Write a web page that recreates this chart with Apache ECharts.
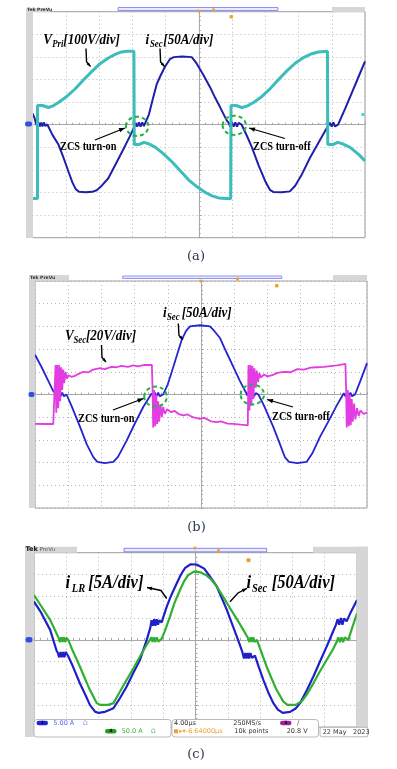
<!DOCTYPE html>
<html><head><meta charset="utf-8">
<script src="https://cdn.jsdelivr.net/npm/echarts@6/dist/echarts.min.js"></script>
<style>html,body{margin:0;padding:0;background:#fff}#c{width:397px;height:769px}</style>
</head><body><div id="c"></div>
<script>
// ---- data (x: divisions from left edge, y: divisions from centre) ----
const aISec = [[0,0.5],[0.06,0.3],[0.1,0.08],[0.14,-0.08],[0.18,0.1],[0.22,-0.08],[0.26,0.1],[0.3,-0.08],[0.34,0.1],[0.38,-0.05],[0.45,0],
[0.6,-0.45],[0.78,-0.88],[0.93,-1.45],[1.08,-2.07],[1.2,-2.55],[1.3,-2.85],[1.4,-2.97],[1.6,-2.99],[1.8,-2.97],[1.93,-2.9],
[2.05,-2.75],[2.28,-2.37],[2.5,-1.75],[2.78,-0.95],[2.95,-0.45],[3.06,-0.1],
[3.1,0.08],[3.15,-0.08],[3.2,0.1],[3.25,-0.08],[3.3,0.1],[3.35,-0.06],[3.38,0],
[3.5,0.45],[3.62,1.15],[3.74,1.81],[3.86,2.2],[3.98,2.55],[4.13,2.9],[4.25,2.99],[4.5,3.02],[4.79,2.99],[4.94,2.7],[5.14,2.2],[5.34,1.66],[5.49,1.2],[5.64,0.78],[5.84,0.19],
[5.9,0.08],[5.95,-0.08],[6.0,0.1],[6.05,-0.08],[6.1,0.1],[6.15,-0.08],[6.2,0.08],[6.29,0],
[6.45,-0.5],[6.6,-1.0],[6.8,-1.8],[7.0,-2.5],[7.14,-2.88],[7.25,-2.98],[7.5,-2.99],[7.74,-2.95],
[7.9,-2.7],[8.1,-2.2],[8.35,-1.45],[8.6,-0.8],[8.89,-0.05],
[8.95,0.08],[9.0,-0.08],[9.05,0.1],[9.1,-0.08],[9.19,0],
[9.4,0.7],[9.6,1.4],[9.8,2.1],[10,2.8]];
const aVPri = [[0,-3.26],[0.15,-3.26],[0.15,0.85],[0.3,0.85],[0.48,0.76],[0.6,0.82],[0.78,0.98],[1.03,1.25],[1.28,1.58],[1.53,1.98],[1.78,2.35],[2.03,2.7],[2.28,2.95],[2.5,3.12],[2.68,3.22],[2.85,3.25],[3.05,3.25],
[3.06,-0.88],[3.2,-0.88],[3.35,-0.78],[3.5,-0.85],[3.7,-1.0],[3.95,-1.3],[4.2,-1.65],[4.45,-2.05],[4.7,-2.45],[4.95,-2.75],[5.2,-3.0],[5.4,-3.15],[5.6,-3.24],[5.96,-3.28],
[5.97,0.85],[6.12,0.85],[6.3,0.76],[6.45,0.82],[6.65,0.98],[6.9,1.25],[7.15,1.6],[7.4,2.0],[7.65,2.38],[7.9,2.72],[8.15,2.97],[8.4,3.14],[8.6,3.22],[8.87,3.25],
[8.88,-0.88],[9.03,-0.88],[9.18,-0.78],[9.33,-0.85],[9.55,-1.0],[9.8,-1.3],[10,-1.6]];

const bISec = [[0,1.75],[0.2,1.2],[0.4,0.6],[0.55,0.15],[0.62,0.05],
[0.67,-0.08],[0.72,0.08],[0.77,-0.08],[0.82,0.08],[0.87,-0.08],[0.95,0],
[1.1,-0.5],[1.36,-1.44],[1.56,-2.2],[1.76,-2.77],[1.88,-2.97],[2.1,-3.02],[2.36,-2.97],[2.5,-2.75],[2.76,-2.03],[3.0,-1.3],[3.26,-0.55],[3.45,-0.1],
[3.51,0.05],[3.56,-0.08],[3.61,0.08],[3.66,-0.08],[3.71,0.08],[3.76,-0.08],[3.86,0],
[4.0,0.45],[4.17,1.23],[4.3,1.85],[4.42,2.41],[4.55,2.8],[4.67,3.0],[4.97,3.05],[5.27,3.0],[5.4,2.8],[5.57,2.49],[5.77,1.85],[5.97,1.23],[6.17,0.6],[6.35,0.1],
[6.4,-0.05],[6.45,0.08],[6.5,-0.08],[6.55,0.08],[6.6,-0.08],[6.65,0.06],[6.73,0],
[6.9,-0.5],[7.18,-1.44],[7.38,-2.2],[7.53,-2.77],[7.65,-2.97],[7.9,-3.02],[8.18,-2.97],[8.35,-2.6],[8.58,-1.88],[8.85,-1.15],[9.09,-0.48],[9.25,-0.08],
[9.3,0.06],[9.35,-0.08],[9.4,0.08],[9.45,-0.08],[9.5,0.08],[9.55,-0.08],[9.64,0],
[9.8,0.6],[10,1.38]];
const bVSec = [[0,-1.29],[0.3,-1.3],[0.55,-1.3],[0.6,-1.25],[0.62,1.3],[0.64,-0.8],[0.67,1.3],[0.7,-0.6],[0.73,1.3],[0.76,-0.3],[0.79,1.2],[0.82,0.2],[0.85,1.1],[0.88,0.5],[0.92,1.0],[0.96,0.7],[1.0,0.85],[1.1,0.78],
[1.2,0.82],[1.3,0.9],[1.45,1.0],[1.6,0.97],[1.75,1.1],[1.96,1.16],[2.1,1.12],[2.3,1.22],[2.46,1.2],[2.6,1.26],[2.8,1.22],[2.96,1.28],[3.1,1.24],[3.3,1.3],[3.52,1.3],
[3.54,0.3],[3.56,-1.45],[3.59,0.2],[3.62,-1.4],[3.65,0.0],[3.68,-1.3],[3.71,-0.3],[3.74,-1.2],[3.78,-0.45],[3.82,-1.0],[3.86,-0.55],[3.91,-0.85],[3.98,-0.65],[4.1,-0.78],[4.2,-0.72],[4.35,-0.88],[4.47,-0.92],[4.6,-0.88],[4.75,-1.0],[4.97,-1.07],[5.1,-1.03],[5.3,-1.18],[5.47,-1.22],[5.6,-1.18],[5.8,-1.28],[5.97,-1.29],[6.2,-1.33],[6.41,-1.36],
[6.43,1.3],[6.46,-0.7],[6.49,1.3],[6.52,-0.5],[6.55,1.25],[6.58,-0.2],[6.61,1.15],[6.65,0.3],[6.68,1.05],[6.72,0.55],[6.76,0.95],[6.8,0.75],[6.9,0.88],[7.0,0.8],[7.15,0.85],[7.3,0.95],[7.5,1.0],[7.7,0.98],[7.9,1.12],[8.1,1.1],[8.3,1.18],[8.5,1.2],[8.7,1.22],[8.9,1.25],[9.1,1.28],[9.35,1.35],
[9.37,0.3],[9.39,-1.45],[9.42,0.2],[9.45,-1.4],[9.48,0.0],[9.51,-1.35],[9.54,-0.2],[9.57,-1.2],[9.61,-0.4],[9.65,-1.1],[9.7,-0.6],[9.75,-0.95],[9.8,-0.7],[9.9,-0.85],[10,-0.8]];

const cILR = [[0,1.76],[0.2,1.3],[0.5,0.46],[0.7,-0.5],
[0.74,-0.6],[0.78,-0.8],[0.82,-0.55],[0.86,-0.8],[0.9,-0.55],[0.94,-0.8],[0.98,-0.55],[1.06,-0.75],
[1.2,-1.2],[1.42,-1.99],[1.6,-2.55],[1.73,-2.98],[1.89,-3.29],[2.0,-3.35],[2.2,-3.3],[2.46,-3.13],[2.65,-2.7],[2.87,-2.14],[3.08,-1.5],[3.28,-0.92],[3.49,0],[3.6,0.55],
[3.64,0.9],[3.68,0.65],[3.72,0.95],[3.76,0.65],[3.8,0.95],[3.84,0.7],[3.88,0.9],[3.95,0.8],
[4.11,1.53],[4.25,2.05],[4.42,2.6],[4.55,3.0],[4.68,3.3],[4.85,3.47],[5.05,3.45],[5.27,3.27],[5.45,2.9],[5.66,2.45],[5.82,1.9],[5.97,1.38],[6.12,0.78],[6.28,0.15],[6.45,-0.55],
[6.5,-0.85],[6.54,-0.6],[6.58,-0.85],[6.62,-0.6],[6.66,-0.85],[6.7,-0.6],[6.75,-0.82],[6.84,-0.72],
[6.95,-1.2],[7.1,-1.83],[7.25,-2.4],[7.41,-2.9],[7.55,-3.2],[7.7,-3.35],[7.93,-3.3],[8.1,-3.15],[8.24,-2.9],[8.45,-2.3],[8.65,-1.68],[8.85,-1.0],[9.06,-0.31],[9.25,0.35],[9.35,0.7],
[9.4,0.95],[9.45,0.7],[9.5,1.0],[9.55,0.7],[9.6,0.98],[9.68,0.85],
[9.8,1.25],[10,1.83]];
const cISec = [[0,2.06],[0.2,1.6],[0.5,0.92],[0.68,0.35],[0.76,0.1],
[0.8,-0.1],[0.84,0.12],[0.88,-0.1],[0.92,0.12],[0.96,-0.1],[1.0,0.1],[1.06,0],
[1.2,-0.5],[1.42,-1.22],[1.6,-1.85],[1.73,-2.29],[1.94,-2.9],[2.05,-2.98],[2.3,-2.98],[2.46,-2.9],[2.65,-2.4],[2.87,-1.83],[3.08,-1.3],[3.28,-0.76],[3.5,-0.2],[3.59,0],
[3.63,0.12],[3.67,-0.1],[3.71,0.12],[3.75,-0.1],[3.8,0.12],[3.85,-0.08],[3.95,0.05],
[4.05,0.4],[4.21,1.07],[4.35,1.7],[4.52,2.29],[4.65,2.7],[4.78,2.98],[4.95,3.13],[5.15,3.1],[5.35,2.95],[5.5,2.75],[5.66,2.45],[5.85,2.0],[6.07,1.45],[6.28,0.95],[6.48,0.46],[6.62,0.1],
[6.67,-0.1],[6.71,0.12],[6.75,-0.1],[6.79,0.12],[6.83,-0.1],[6.9,0],
[7.0,-0.4],[7.2,-1.22],[7.35,-1.75],[7.51,-2.29],[7.72,-2.83],[7.85,-2.98],[8.1,-2.98],[8.3,-2.8],[8.45,-2.5],[8.65,-1.99],[8.85,-1.45],[9.06,-0.92],[9.25,-0.45],[9.37,-0.1],
[9.42,0.12],[9.47,-0.1],[9.52,0.12],[9.57,-0.1],[9.62,0.12],[9.73,0],
[9.85,0.55],[10,1.22]];

const captions = ['(a)', '(b)', '(c)'];
const readoutCh1 = '5.00 A', readoutCh4 = '50.0 A', readoutTime = '4.00\u03bcs', readoutRate = '250MS/s';
const readoutDelay = '\u25b8\u25be-6.64000\u03bcs', readoutPts = '10k points', readoutTrig = '20.8 V', readoutDate = '22 May', readoutYear = '2023';

// ---- build ----
const centred = d => d.map(p => [p[0] - 5, p[1]]);
const grids = [
  {left: 32.5, top: 11.7, width: 332.5, height: 226},
  {left: 35, top: 281, width: 332, height: 227},
  {left: 34, top: 552.7, width: 323, height: 174.4}
];
const yr = [5, 5, 4];
const gridOpts = grids.map(g => Object.assign({show: true, borderColor: '#9c9c9c', borderWidth: 1, backgroundColor: '#fff'}, g));
const xAxes = grids.map((g, i) => ({
  gridIndex: i, type: 'value', min: -5, max: 5, interval: 1,
  axisLine: {onZero: true, lineStyle: {color: '#a8a8a8', width: 1}},
  axisTick: {show: true, inside: true, length: 3, lineStyle: {color: '#a8a8a8'}},
  minorTick: {show: true, splitNumber: 5, length: 2, lineStyle: {color: '#a8a8a8'}},
  axisLabel: {show: false},
  splitLine: {show: true, lineStyle: {color: '#b4b4b4', type: [1, 3], width: 1}}
}));
const yAxes = grids.map((g, i) => ({
  gridIndex: i, type: 'value', min: -yr[i], max: yr[i], interval: 1,
  axisLine: {onZero: true, lineStyle: {color: '#a8a8a8', width: 1}},
  axisTick: {show: true, inside: true, length: 3, lineStyle: {color: '#a8a8a8'}},
  minorTick: {show: true, splitNumber: 5, length: 2, lineStyle: {color: '#a8a8a8'}},
  axisLabel: {show: false},
  splitLine: {show: true, lineStyle: {color: '#b4b4b4', type: [1, 3], width: 1}}
}));
function ln(i, data, color, width, z) {
  return {type: 'line', xAxisIndex: i, yAxisIndex: i, data: centred(data), showSymbol: false, symbol: 'none',
    lineStyle: {color: color, width: width}, z: z, silent: true, animation: false};
}
const series = [
  ln(0, aISec, '#1f1fa8', 2, 3),
  ln(0, aVPri, '#3dbcbc', 3, 4),
  ln(1, bISec, '#2424d0', 1.8, 3),
  ln(1, bVSec, '#e23ce2', 1.8, 4),
  ln(2, cILR, '#2020c8', 2.2, 3),
  ln(2, cISec, '#30b030', 2.2, 4)
];

// ---- graphics helpers ----
const G = [];
function rect(x, y, w, h, fill, stroke, r, z) {
  G.push({type: 'rect', shape: {x: x, y: y, width: w, height: h, r: r || 0}, style: {fill: fill, stroke: stroke || null, lineWidth: stroke ? 0.8 : 0}, z: z || 20, silent: true});
}
function T(x, y, text, size, o) {
  o = o || {};
  G.push({type: 'text', x: x, y: y, scaleX: o.sx || 1, z: o.z || 60, silent: true,
    style: {text: text, fill: o.color || '#000', fontSize: size, fontFamily: o.ff || 'Liberation Serif',
      fontWeight: o.fw || 'bold', fontStyle: o.fs || 'normal', align: o.align || 'left', verticalAlign: 'middle',
      textAlign: o.align || 'left', textVerticalAlign: 'middle'}});
}
function arrow(pts, size, w) {
  G.push({type: 'polyline', shape: {points: pts}, style: {stroke: '#000', lineWidth: w || 1.2, fill: null}, z: 55, silent: true});
  const [x1, y1] = pts[pts.length - 2], [x2, y2] = pts[pts.length - 1];
  const a = Math.atan2(y2 - y1, x2 - x1), s = size || 5;
  G.push({type: 'polygon', z: 56, silent: true, style: {fill: '#000'}, shape: {points: [[x2, y2],
    [x2 - s * Math.cos(a) + s * 0.38 * Math.sin(a), y2 - s * Math.sin(a) - s * 0.38 * Math.cos(a)],
    [x2 - s * Math.cos(a) - s * 0.38 * Math.sin(a), y2 - s * Math.sin(a) + s * 0.38 * Math.cos(a)]]}});
}
function ell(cx, cy, rx, ry) {
  G.push({type: 'ellipse', shape: {cx: cx, cy: cy, rx: rx, ry: ry}, style: {fill: null, stroke: '#22b048', lineWidth: 2, lineDash: [4, 3]}, z: 50, silent: true});
}
const L = {fs: 'italic', sx: 0.87};
const S = {fs: 'italic', sx: 0.87};
const Z = {sx: 0.86};

// ---- panel (a) chrome ----
rect(26, 8, 7, 230, '#d6d6d6');
rect(26, 8, 24, 4, '#d6d6d6');
T(27, 10, 'Tek PreVu', 4.5, {ff: 'DejaVu Sans', fw: 'bold', color: '#333'});
rect(118, 7.5, 160, 3, '#eaeaff', '#7878f0');
rect(332, 7, 33, 5, '#d6d6d6');
T(199, 11.5, '\u25bc', 5, {ff: 'DejaVu Sans', color: '#f0a030', align: 'center'});
rect(212, 8.5, 3, 3, '#f0a030');
rect(229.5, 15, 3.5, 3.5, '#f0a030', null, 1);
rect(25, 121.5, 7, 5, '#3050e0', null, 2);
rect(361.5, 113, 3, 3, '#50d0d0');
// labels (a)
T(43.3, 40, 'V', 15, L); T(52.3, 44.5, 'Pri', 10, S); T(63.3, 40, '[100V/div]', 15, L);
T(145.5, 40, 'i', 15, L); T(150, 44.5, 'Sec', 10, S); T(163.3, 40, '[50A/div]', 15, L);
arrow([[86, 48.5], [86.6, 62], [90.5, 66.5]], 4, 1.4);
arrow([[160, 48.5], [160.6, 62], [164.5, 66.5]], 4, 1.4);
T(60, 147, 'ZCS turn-on', 12, Z);
arrow([[95, 140], [125, 128]], 6, 1.3);
ell(137.2, 126.3, 11.2, 9.6);
T(253, 147, 'ZCS turn-off', 12, Z);
arrow([[285, 138.5], [249, 128]], 6, 1.3);
ell(234.3, 125.3, 11.7, 9.6);
T(196, 256.5, captions[0], 13, {ff: 'DejaVu Serif', fw: 'normal', color: '#2a3552', align: 'center'});

// ---- panel (b) chrome ----
rect(29, 275, 6, 233, '#d6d6d6');
rect(29, 275, 40, 5.5, '#d6d6d6');
T(30, 277.8, 'Tek PreVu', 4.5, {ff: 'DejaVu Sans', fw: 'bold', color: '#333'});
rect(122.7, 276, 159, 2.5, '#eaeaff', '#7878f0');
rect(333, 275, 34, 5.5, '#d6d6d6');
T(201, 281.5, '\u25bc', 5, {ff: 'DejaVu Sans', color: '#f0a030', align: 'center'});
rect(236, 277.5, 3, 3, '#f0a030');
rect(275, 284, 3.5, 3.5, '#f0a030', null, 1);
rect(28.5, 392, 6, 5, '#3050e0', null, 2);
T(65, 336, 'V', 15, L); T(73.5, 340.5, 'Sec', 10, S); T(86, 336, '[20V/div]', 15, L);
T(163, 313, 'i', 15, L); T(167, 317.5, 'Sec', 10, S); T(181.7, 313, '[50A/div]', 15, L);
arrow([[101.5, 345], [102, 357.5], [106, 362]], 4, 1.4);
arrow([[178.3, 323.5], [179, 335.5], [183, 339.5]], 4, 1.4);
T(78, 418.5, 'ZCS turn-on', 12, Z);
arrow([[113, 410], [143.5, 398.5]], 6, 1.3);
ell(155.5, 396.6, 11.3, 10);
T(272, 417, 'ZCS turn-off', 12, Z);
arrow([[293, 407], [267, 399.5]], 6, 1.3);
ell(252.3, 394.5, 11.7, 10);
T(196.5, 528, captions[1], 13, {ff: 'DejaVu Serif', fw: 'normal', color: '#2a3552', align: 'center'});

// ---- panel (c) chrome ----
rect(25, 546.7, 9, 190.3, '#d6d6d6');
rect(25, 546.7, 52, 6, '#d6d6d6');
T(25.5, 549.7, 'Tek', 6.5, {ff: 'DejaVu Sans', fw: 'bold', color: '#111'});
T(39.5, 549.7, 'PreVu', 5.5, {ff: 'DejaVu Sans', fw: 'normal', color: '#5a5a70'});
rect(124, 548.3, 142.7, 3.5, '#ececff', '#6a6ae8');
rect(313, 546.7, 55, 6, '#d6d6d6');
rect(356.7, 546.7, 11.3, 190.3, '#d6d6d6');
T(195, 548.5, '\u25bc', 5, {ff: 'DejaVu Sans', color: '#f0a030', align: 'center'});
rect(217, 549.3, 3, 3, '#f0a030');
rect(246.5, 558.3, 4, 4, '#f0a030', null, 1);
rect(25.5, 637, 7, 5.5, '#3050e0', null, 2.5);
T(65.5, 583.3, 'i', 19, L); T(71.8, 588.5, 'LR', 12, S); T(88.3, 583.3, '[5A/div]', 19, L);
T(246.5, 583.3, 'i', 19, L); T(252, 588.5, 'Sec', 12, S); T(271.7, 583.3, '[50A/div]', 19, L);
arrow([[166.7, 598.5], [161, 590.5], [147, 587.5]], 5, 1.4);
arrow([[230, 601.7], [238, 593], [247, 588.3]], 5, 1.4);
// readouts
rect(34, 719.5, 137, 17.5, '#fff', '#a8a8a8', 3, 70);
rect(36.5, 720.7, 11.5, 4.6, '#2222e0', null, 2.3, 71);
T(42.2, 723, '1', 4.5, {ff: 'DejaVu Sans', color: '#000', align: 'center', z: 72});
T(53.3, 723.3, readoutCh1, 6.5, {ff: 'DejaVu Sans', fw: 'normal', color: '#5a5aff', z: 72});
T(83, 723.3, '\u2126', 6, {ff: 'DejaVu Sans', fw: 'normal', color: '#8a8aff', z: 72});
rect(105, 729, 11.5, 4.6, '#20a020', null, 2.3, 71);
T(110.7, 731.3, '4', 4.5, {ff: 'DejaVu Sans', color: '#000', align: 'center', z: 72});
T(121.7, 731.3, readoutCh4, 6.5, {ff: 'DejaVu Sans', fw: 'normal', color: '#40b040', z: 72});
T(151, 731.3, '\u2126', 6, {ff: 'DejaVu Sans', fw: 'normal', color: '#60c060', z: 72});
rect(172, 719.5, 146.5, 17.5, '#fff', '#a8a8a8', 3, 70);
T(174, 723.3, readoutTime, 6.5, {ff: 'DejaVu Sans', fw: 'normal', color: '#333', z: 72});
T(233.3, 723.3, readoutRate, 6.5, {ff: 'DejaVu Sans', fw: 'normal', color: '#333', z: 72});
rect(280, 720.7, 11.5, 4.6, '#a020a0', null, 2.3, 71);
T(285.7, 723, '3', 4.5, {ff: 'DejaVu Sans', color: '#000', align: 'center', z: 72});
T(297, 723.3, '/', 6.5, {ff: 'DejaVu Sans', fw: 'normal', color: '#333', z: 72});
rect(174, 729.2, 4, 4, '#f0a030', null, 0.5, 71);
T(179.3, 731.3, readoutDelay, 6.5, {ff: 'DejaVu Sans', fw: 'normal', color: '#f0a030', z: 72});
T(234.3, 731.3, readoutPts, 6.5, {ff: 'DejaVu Sans', fw: 'normal', color: '#333', z: 72});
T(286.7, 731.3, readoutTrig, 6.5, {ff: 'DejaVu Sans', fw: 'normal', color: '#333', z: 72});
rect(320, 727.3, 48, 9.5, '#fff', '#a8a8a8', 2, 70);
T(322.7, 732, readoutDate, 6.5, {ff: 'DejaVu Sans', fw: 'normal', color: '#333', z: 72});
T(353, 732, readoutYear, 6.5, {ff: 'DejaVu Sans', fw: 'normal', color: '#333', z: 72});
T(196, 755, captions[2], 13, {ff: 'DejaVu Serif', fw: 'normal', color: '#2a3552', align: 'center'});

const chart = echarts.init(document.getElementById('c'), null, {renderer: 'canvas'});
chart.setOption({
  animation: false,
  backgroundColor: '#fff',
  grid: gridOpts,
  xAxis: xAxes,
  yAxis: yAxes,
  series: series,
  graphic: {elements: G}
});
</script></body></html>
